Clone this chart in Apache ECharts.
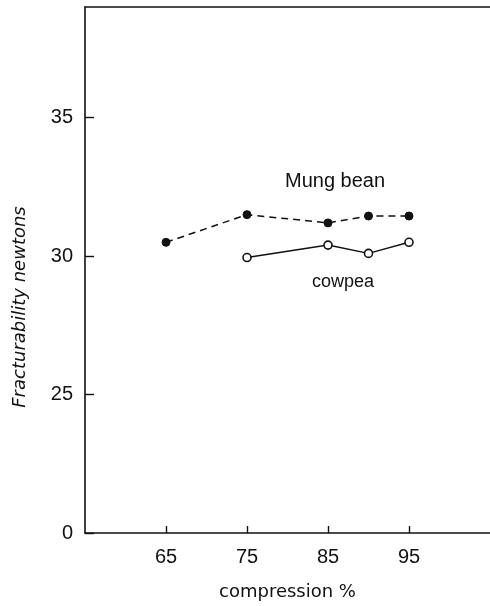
<!DOCTYPE html>
<html>
<head>
<meta charset="utf-8">
<script src="https://cdn.jsdelivr.net/npm/echarts@6/dist/echarts.min.js"></script>
<style>
  html, body { margin: 0; padding: 0; background: #fff; }
  #chart { width: 490px; height: 606px; }
</style>
</head>
<body>
<div id="chart"></div>
<script>
// compression % and fracturability (newtons)
var mungX = [65, 75, 85, 90, 95];
var mungY = [30.5, 31.5, 31.2, 31.45, 31.45];
var cowX = [75, 85, 90, 95];
var cowY = [29.95, 30.4, 30.1, 30.5];

// y axis is broken: the bottom tick (drawn at 20) is labelled 0
var yBreakValue = 20;
var yBreakLabel = '0';

function pairs(xs, ys) {
  return xs.map(function (x, i) { return [x, ys[i]]; });
}

var font = 'Liberation Sans, Arial, sans-serif';
var wide = 'DejaVu Sans, sans-serif';
var ink = '#111';

var chartDom = document.getElementById('chart');
var myChart = echarts.init(chartDom);
var option;

option = {
  backgroundColor: '#fff',
  animation: false,
  grid: { left: 85, right: 0, top: 7, bottom: 73 },
  xAxis: [
    {
      type: 'value',
      min: 55,
      max: 105,
      interval: 10,
      position: 'bottom',
      name: 'compression %',
      nameLocation: 'middle',
      nameGap: 50,
      nameTextStyle: { fontFamily: wide, fontSize: 18, color: ink },
      axisLine: { lineStyle: { color: ink, width: 1.6 } },
      axisTick: { inside: true, length: 7, lineStyle: { color: ink, width: 1.4 } },
      axisLabel: {
        margin: 14, fontFamily: font, fontSize: 20, color: ink,
        showMinLabel: false, showMaxLabel: false
      },
      splitLine: { show: false }
    },
    {
      type: 'value',
      min: 55,
      max: 105,
      position: 'top',
      axisLine: { lineStyle: { color: ink, width: 1.6 } },
      axisTick: { show: false },
      axisLabel: { show: false },
      splitLine: { show: false }
    }
  ],
  yAxis: {
    type: 'value',
    min: 20,
    max: 39,
    interval: 5,
    axisLine: { show: true, lineStyle: { color: ink, width: 1.6 } },
    axisTick: { inside: true, length: 9, lineStyle: { color: ink, width: 1.4 } },
    axisLabel: {
      margin: 12, fontFamily: font, fontSize: 20, color: ink,
      showMaxLabel: false,
      formatter: function (v) {
        return v === yBreakValue ? yBreakLabel : String(v);
      }
    },
    splitLine: { show: false }
  },
  graphic: [
    {
      type: 'text',
      x: 20,
      y: 307,
      rotation: Math.PI / 2,
      style: {
        text: 'Fracturability newtons',
        font: 'italic 18px ' + wide,
        fill: ink,
        align: 'center',
        verticalAlign: 'middle'
      }
    },
    {
      type: 'text',
      left: 285,
      top: 171,
      style: { text: 'Mung bean', font: '20px ' + font, fill: ink }
    },
    {
      type: 'text',
      left: 312,
      top: 273,
      style: { text: 'cowpea', font: '18px ' + font, fill: ink }
    }
  ],
  series: [
    {
      name: 'Mung bean',
      type: 'line',
      data: pairs(mungX, mungY),
      symbol: 'circle',
      symbolSize: 8,
      itemStyle: { color: ink, borderColor: ink, borderWidth: 1 },
      lineStyle: { color: ink, width: 1.5, type: [7, 5] }
    },
    {
      name: 'cowpea',
      type: 'line',
      data: pairs(cowX, cowY),
      symbol: 'circle',
      symbolSize: 8,
      itemStyle: { color: '#fff', borderColor: ink, borderWidth: 1.6 },
      lineStyle: { color: ink, width: 1.5 }
    }
  ]
};

option && myChart.setOption(option);
</script>
</body>
</html>
